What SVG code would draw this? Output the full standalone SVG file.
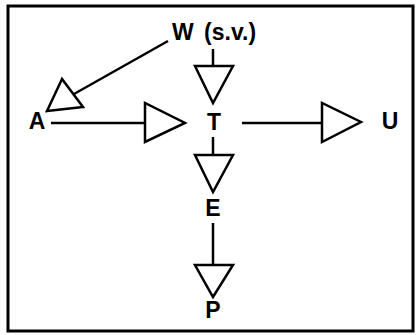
<svg xmlns="http://www.w3.org/2000/svg" width="416" height="335" viewBox="0 0 416 335">
<style>
.lbl{font-family:"Liberation Sans",Arial,sans-serif;font-weight:bold;font-size:23px;fill:#000}
.ln{stroke:#000;stroke-width:2.5;fill:none}
.tri{stroke:#000;stroke-width:2.5;fill:#fff;stroke-linejoin:miter}
</style>
<rect x="0" y="0" width="416" height="335" fill="#fff"/>
<rect x="8" y="6" width="405" height="325" fill="none" stroke="#000" stroke-width="3"/>
<g id="connectors">
<line class="ln" x1="168" y1="41" x2="74" y2="94"/>
<polygon class="tri" points="62,79 47,111 83,107"/>
<line class="ln" x1="51" y1="123" x2="145" y2="123"/>
<polygon class="tri" points="145,103 145,142 185,123"/>
<line class="ln" x1="242" y1="123" x2="322" y2="123"/>
<polygon class="tri" points="322,103 322,142 361,122"/>
<line class="ln" x1="213" y1="49" x2="213" y2="66"/>
<polygon class="tri" points="195,66 233,66 213,103"/>
<line class="ln" x1="213" y1="137" x2="213" y2="155"/>
<polygon class="tri" points="195,155 233,155 213,192"/>
<line class="ln" x1="213" y1="223" x2="213" y2="265"/>
<polygon class="tri" points="195,265 233,265 213,297"/>
</g>
<g id="node-W"><text class="lbl" x="172" y="40" word-spacing="4">W (s.v.)</text></g>
<g id="node-A"><text class="lbl" x="37" y="129" text-anchor="middle">A</text></g>
<g id="node-T"><text class="lbl" x="214" y="130" text-anchor="middle">T</text></g>
<g id="node-U"><text class="lbl" x="390" y="129" text-anchor="middle">U</text></g>
<g id="node-E"><text class="lbl" x="213" y="216" text-anchor="middle">E</text></g>
<g id="node-P"><text class="lbl" x="213" y="318" text-anchor="middle">P</text></g>
</svg>
